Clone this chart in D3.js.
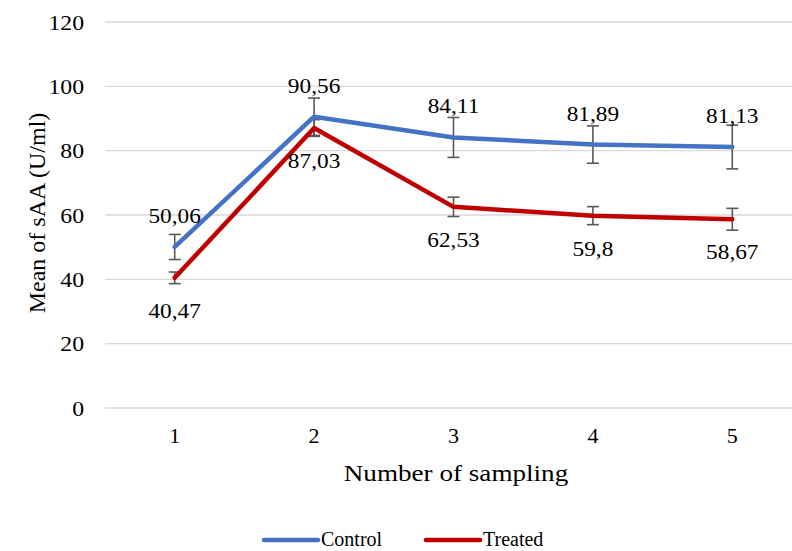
<!DOCTYPE html>
<html><head><meta charset="utf-8">
<script src="https://cdn.jsdelivr.net/npm/d3@7"></script>
<style>body{margin:0;background:#fff}svg{display:block}svg text{font-family:"Liberation Serif","Times New Roman",serif !important;fill:#000}</style>
</head><body><svg id="c" width="792" height="551"></svg>
<script>
const categories = ["1","2","3","4","5"];
const controlValues = [50.06, 90.56, 84.11, 81.89, 81.13];
const treatedValues = [40.47, 87.03, 62.53, 59.8, 58.67];
const controlErrors = [3.9, 5.8, 6.2, 5.8, 6.8];
const treatedErrors = [1.8, 2.6, 3.0, 2.8, 3.4];
const yTicks = [0, 20, 40, 60, 80, 100, 120];
const seriesNames = ["Control", "Treated"];
const seriesColors = ["#4472C4", "#C00000"];

const svg = d3.select("#c");
const x = d3.scaleBand().domain(categories).range([105, 802]);
const y = d3.scaleLinear().domain([0, 120]).range([408, 22]);
const fmt = v => String(v).replace(".", ",");
const FF = '"Liberation Serif","Times New Roman",serif';

function stretch(sel, sx) {
  sel.each(function() {
    const len = this.getComputedTextLength();
    d3.select(this).attr("textLength", len * sx).attr("lengthAdjust", "spacingAndGlyphs");
  });
}

// grid
svg.append("g").selectAll("line").data(yTicks).join("line")
  .attr("x1", 105).attr("x2", 802)
  .attr("y1", d => y(d)).attr("y2", d => y(d))
  .attr("stroke", "#d9d9d9").attr("stroke-width", 1.3);

// y axis labels
const yAxis = d3.axisLeft(y).tickValues(yTicks).tickSize(0).tickPadding(0);
const gy = svg.append("g").attr("transform", "translate(84,0)").call(yAxis)
  .attr("font-family", FF).attr("font-size", 22);
gy.select(".domain").remove();
gy.selectAll("text").attr("dy", "0.33em").attr("fill", "#000");
stretch(gy.selectAll("text"), 1.08);

// x axis labels
const xAxis = d3.axisBottom(x).tickSize(0).tickPadding(0);
const gx = svg.append("g").attr("transform", "translate(0,427)").call(xAxis)
  .attr("font-family", FF).attr("font-size", 22);
gx.select(".domain").remove();
gx.selectAll("text").attr("dy", "0.71em").attr("fill", "#000");

// titles
const xt = svg.append("text").attr("x", 456).attr("y", 481).attr("text-anchor", "middle")
  .attr("font-size", 24).text("Number of sampling");
stretch(xt, 1.13);
svg.append("text").attr("transform", "translate(45,213) rotate(-90)").attr("text-anchor", "middle")
  .attr("font-size", 24).text("Mean of sAA (U/ml)");

const cx = c => x(c) + x.bandwidth() / 2;
const series = [
  {name: seriesNames[0], values: controlValues, errors: controlErrors, color: seriesColors[0], labelDy: -24},
  {name: seriesNames[1], values: treatedValues, errors: treatedErrors, color: seriesColors[1], labelDy: 40}
];
const line = d3.line().x(d => cx(d.c)).y(d => y(d.v));

// error bars
series.forEach(s => {
  const pts = categories.map((c, i) => ({c, v: s.values[i], e: s.errors[i]}));
  const g = svg.append("g").attr("stroke", "#595959").attr("stroke-width", 1.6);
  pts.forEach(p => {
    const X = cx(p.c);
    g.append("line").attr("x1", X).attr("x2", X).attr("y1", y(p.v + p.e)).attr("y2", y(p.v - p.e));
    g.append("line").attr("x1", X - 6).attr("x2", X + 6).attr("y1", y(p.v + p.e)).attr("y2", y(p.v + p.e));
    g.append("line").attr("x1", X - 6).attr("x2", X + 6).attr("y1", y(p.v - p.e)).attr("y2", y(p.v - p.e));
  });
});

series.forEach(s => {
  const pts = categories.map((c, i) => ({c, v: s.values[i], e: s.errors[i]}));
  svg.append("path").datum(pts).attr("d", line).attr("fill", "none")
    .attr("stroke", s.color).attr("stroke-width", 4.5).attr("stroke-linejoin", "round").attr("stroke-linecap", "round");
});

series.forEach(s => {
  const t = svg.append("g").selectAll("text").data(categories.map((c, i) => ({c, v: s.values[i]}))).join("text")
    .attr("x", d => cx(d.c)).attr("y", d => y(d.v) + s.labelDy)
    .attr("text-anchor", "middle").attr("font-size", 22).text(d => fmt(d.v));
  stretch(t, 1.06);
});

// legend
const legX = [262, 424];
series.forEach((s, i) => {
  svg.append("line").attr("x1", legX[i] + 2).attr("x2", legX[i] + 56).attr("y1", 540).attr("y2", 540)
    .attr("stroke", s.color).attr("stroke-width", 4.5).attr("stroke-linecap", "round");
  svg.append("text").attr("x", legX[i] + 59).attr("y", 546).attr("font-size", 20).text(s.name);
});
</script></body></html>
